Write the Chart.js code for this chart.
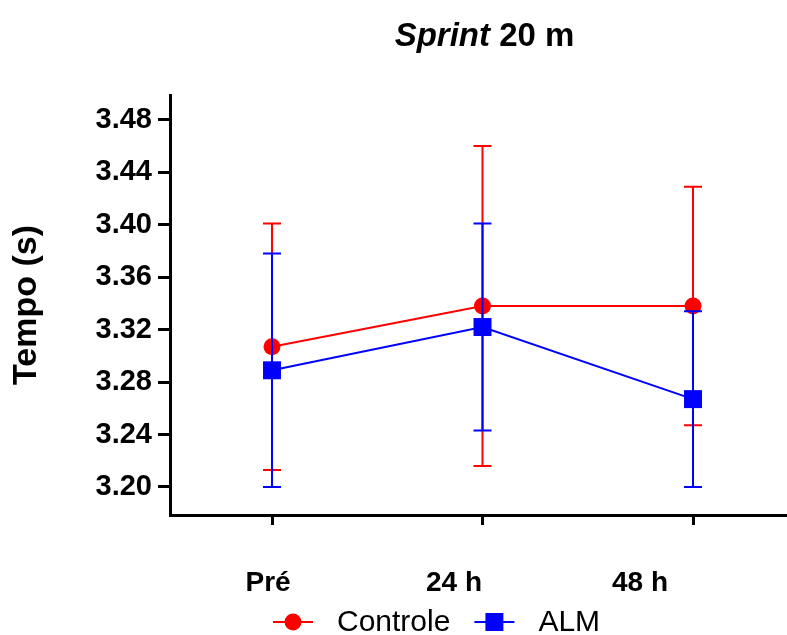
<!DOCTYPE html>
<html>
<head>
<meta charset="utf-8">
<title>Sprint 20 m</title>
<script src="https://cdn.jsdelivr.net/npm/chart.js@4/dist/chart.umd.min.js"></script>
<style>
  body { margin: 0; background: #fff; }
  canvas { display: block; }
</style>
</head>
<body>
<canvas id="sprintChart" width="787" height="635"></canvas>
<script>
const categories = ["Pré", "24 h", "48 h"];
const controleMean = [3.307, 3.338, 3.338];
const controleSD = [0.094, 0.122, 0.091];
const almMean = [3.289, 3.322, 3.267];
const almSD = [0.089, 0.079, 0.067];
const yTicks = [3.20, 3.24, 3.28, 3.32, 3.36, 3.40, 3.44, 3.48];

const FONT = "'Liberation Sans', Arial, sans-serif";

const toPoints = (means) => means.map((v, i) => ({ x: i, y: v }));

// error bars, drawn just before each dataset so later series sit on top
const errorBars = {
  id: "errorBars",
  beforeDatasetDraw(chart, args) {
    const ds = chart.data.datasets[args.index];
    const yScale = chart.scales.y;
    const c = chart.ctx;
    c.save();
    c.strokeStyle = ds.borderColor;
    c.lineWidth = 2;
    args.meta.data.forEach((pt, i) => {
      const top = yScale.getPixelForValue(ds.mean[i] + ds.sd[i]);
      const bot = yScale.getPixelForValue(ds.mean[i] - ds.sd[i]);
      c.beginPath();
      c.moveTo(pt.x, top);
      c.lineTo(pt.x, bot);
      c.moveTo(pt.x - 9, top);
      c.lineTo(pt.x + 9, top);
      c.moveTo(pt.x - 9, bot);
      c.lineTo(pt.x + 9, bot);
      c.stroke();
    });
    c.restore();
  }
};

// title with italic "Sprint"
const mixedTitle = {
  id: "mixedTitle",
  afterDraw(chart) {
    const c = chart.ctx;
    const area = chart.chartArea;
    const a = "Sprint", b = " 20 m";
    c.save();
    c.fillStyle = "#000";
    c.textBaseline = "alphabetic";
    c.font = "italic bold 33px " + FONT;
    const wa = c.measureText(a).width;
    c.font = "bold 33px " + FONT;
    const wb = c.measureText(b).width;
    const x = (area.left + area.right) / 2 - (wa + wb) / 2 + 6;
    c.font = "italic bold 33px " + FONT;
    c.fillText(a, x, 46);
    c.font = "bold 33px " + FONT;
    c.fillText(b, x + wa, 46);
    c.restore();
  }
};

// legend: line with marker, like the original
const lineLegend = {
  id: "lineLegend",
  afterDraw(chart) {
    const c = chart.ctx;
    let x = 273;
    const y = 622;
    c.save();
    c.font = "30px " + FONT;
    c.textBaseline = "middle";
    chart.data.datasets.forEach((ds) => {
      c.strokeStyle = ds.borderColor;
      c.lineWidth = 2;
      c.beginPath();
      c.moveTo(x, y);
      c.lineTo(x + 40, y);
      c.stroke();
      c.fillStyle = ds.pointBackgroundColor;
      Chart.helpers.drawPoint(c, {
        pointStyle: ds.pointStyle,
        radius: ds.pointRadius,
        borderWidth: 0
      }, x + 20, y);
      c.fillStyle = "#000";
      c.fillText(ds.label, x + 64, y + 1);
      x += 64 + c.measureText(ds.label).width + 24;
    });
    c.restore();
  }
};

const noSidePadding = (s) => { s.paddingLeft = 0; s.paddingRight = 0; };

new Chart(document.getElementById("sprintChart"), {
  type: "line",
  data: {
    datasets: [
      {
        label: "Controle",
        data: toPoints(controleMean),
        mean: controleMean,
        sd: controleSD,
        borderColor: "#ff0000",
        backgroundColor: "#ff0000",
        pointBackgroundColor: "#ff0000",
        pointBorderColor: "#ff0000",
        pointStyle: "circle",
        pointRadius: 8.5,
        pointBorderWidth: 0,
        borderWidth: 2,
        tension: 0,
        order: 1
      },
      {
        label: "ALM",
        data: toPoints(almMean),
        mean: almMean,
        sd: almSD,
        borderColor: "#0000ff",
        backgroundColor: "#0000ff",
        pointBackgroundColor: "#0000ff",
        pointBorderColor: "#0000ff",
        pointStyle: "rect",
        pointRadius: 12.7,
        pointBorderWidth: 0,
        borderWidth: 2,
        tension: 0,
        order: 0
      }
    ]
  },
  options: {
    responsive: false,
    animation: false,
    layout: { autoPadding: false, padding: { top: 95, left: 0, right: 0, bottom: 0 } },
    plugins: {
      legend: { display: false },
      title: { display: false },
      tooltip: { enabled: false }
    },
    scales: {
      x: {
        type: "linear",
        position: "bottom",
        min: -0.4846,
        max: 2.4465,
        afterBuildTicks: (s) => { s.ticks = categories.map((c, i) => ({ value: i })); },
        afterFit: (s) => { s.height = 10; noSidePadding(s); },
        ticks: { display: false },
        grid: { drawOnChartArea: false, drawTicks: true, tickLength: 10, color: "#000", lineWidth: 3 },
        border: { display: true, color: "#000", width: 3 }
      },
      x2: {
        type: "linear",
        position: "bottom",
        min: -0.527,
        max: 2.79,
        afterBuildTicks: (s) => { s.ticks = categories.map((c, i) => ({ value: i })); },
        afterFit: (s) => { s.height = 110; noSidePadding(s); },
        ticks: {
          autoSkip: false,
          maxRotation: 0,
          padding: 33,
          color: "#000",
          font: { family: FONT, size: 28, weight: "bold" },
          callback: (v) => categories[v]
        },
        grid: { display: false },
        border: { display: false }
      },
      y: {
        type: "linear",
        min: 3.1786,
        max: 3.499,
        afterBuildTicks: (s) => { s.ticks = yTicks.map((v) => ({ value: v })); },
        afterFit: (s) => { s.width = 170; },
        ticks: {
          padding: 6,
          color: "#000",
          font: { family: FONT, size: 29, weight: "bold" },
          callback: (v) => v.toFixed(2)
        },
        grid: { drawOnChartArea: false, drawTicks: true, tickLength: 12, color: "#000", lineWidth: 3 },
        border: { display: true, color: "#000", width: 3 },
        title: {
          display: true,
          text: "Tempo (s)",
          color: "#000",
          font: { family: FONT, size: 34, weight: "bold" },
          padding: { top: 6, bottom: 0 }
        }
      }
    }
  },
  plugins: [errorBars, mixedTitle, lineLegend]
});
</script>
</body>
</html>
